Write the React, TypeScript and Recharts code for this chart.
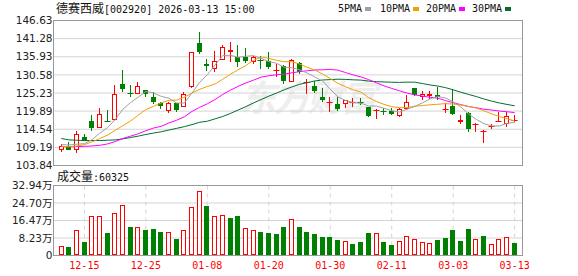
import React from 'react';
import { ComposedChart, Bar, Line, XAxis, YAxis, CartesianGrid } from 'recharts';

const dates = [
  '12-10','12-11','12-12','12-15','12-16','12-17','12-18','12-19','12-22','12-23',
  '12-24','12-25','12-26','12-29','12-30','12-31','01-05','01-06','01-07','01-08',
  '01-09','01-12','01-13','01-14','01-15','01-16','01-19','01-20','01-21','01-22',
  '01-23','01-26','01-27','01-28','01-29','01-30','02-02','02-03','02-04','02-05',
  '02-06','02-09','02-10','02-11','02-12','02-13','02-24','02-25','02-26','02-27',
  '03-02','03-03','03-04','03-05','03-06','03-09','03-10','03-11','03-12','03-13',
];

const opens = [
  108.48,109.47,108.48,112.34,116.9,115.0,116.9,117.2,127.9,125.32,
  125.03,126.02,124.03,122.15,120.07,122.15,121.16,127.01,139.99,133.65,
  132.26,135.04,137.22,135.73,135.73,134.24,135.04,134.54,131.8,133.35,
  128.5,134.05,128.2,127.31,124.13,122.45,121.86,121.95,122.45,122.65,
  120.96,120.07,119.97,119.97,118.49,120.37,126.61,123.94,124.43,124.53,
  120.3,121.46,116.6,119.47,115.91,113.93,115.41,116.8,116.0,117.2,
];
const highs = [
  110.26,110.85,113.93,113.24,118.88,120.76,120.17,127.5,132.06,127.5,
  128.5,126.1,125.42,122.65,122.65,122.35,125.62,137.41,143.16,135.23,
  137.51,139.5,140.29,139.5,138.5,136.22,136.22,137.41,133.75,133.45,
  135.33,134.24,129.39,128.79,126.61,123.94,124.13,123.14,123.64,123.64,
  121.06,120.37,120.67,120.67,120.67,124.63,126.81,125.92,125.92,127.0,
  122.15,126.5,118.69,119.58,116.5,114.22,116.0,119.67,119.67,118.7,
];
const lows = [
  107.78,108.28,107.48,111.05,114.03,115.0,116.6,117.0,125.62,124.13,
  125.03,124.03,121.95,120.37,119.47,119.67,121.16,126.61,136.82,131.86,
  131.57,134.9,134.24,133.05,134.05,133.65,132.26,132.26,130.08,127.9,
  128.5,130.77,125.03,125.32,122.65,119.58,119.97,120.67,121.16,121.66,
  118.19,117.59,118.88,118.88,118.19,120.17,124.33,123.14,123.54,123.14,
  119.47,118.69,116.2,113.73,113.73,110.46,114.62,116.8,115.22,116.6,
];
const closes = [
  109.67,108.48,113.13,111.15,114.92,119.18,116.7,124.83,126.51,124.83,
  127.21,125.03,122.65,121.46,122.15,120.17,124.93,137.31,137.31,133.25,
  134.64,138.8,137.91,134.24,134.74,135.73,134.64,133.05,131.96,128.89,
  134.94,131.57,128.4,125.92,123.14,122.65,120.37,123.04,122.65,122.45,
  118.49,120.27,119.77,119.08,120.57,122.45,124.63,124.93,124.93,123.94,
  120.45,118.98,117.2,114.52,116.21,114.13,115.61,117.0,118.49,117.3,
];
// volume in 万手
const volumes = [
  4.3,3.8,12.2,6.2,18.4,18.4,10.5,20.0,23.8,13.3,
  13.6,11.9,12.4,10.9,11.2,7.6,12.2,22.6,30.2,23.4,
  18.4,19.0,17.6,18.5,13.1,12.2,10.9,10.6,10.0,13.3,
  17.4,13.3,10.9,10.0,8.6,8.6,7.1,6.7,5.2,6.2,
  10.5,10.5,6.2,4.8,7.0,9.3,7.9,6.2,5.7,7.1,
  8.1,11.9,6.7,12.4,7.9,9.0,5.2,7.9,8.6,6.03,
];
const ma5 = [
  110.0,109.9,110.1,110.3,111.47,113.37,115.02,117.36,120.43,122.41,
  124.0,125.68,125.25,124.24,123.7,122.29,122.27,125.2,128.37,130.59,
  133.49,136.26,136.38,135.77,136.07,136.28,135.45,134.48,134.02,132.85,
  132.7,132.08,131.15,129.94,128.79,126.34,124.1,123.02,122.37,122.23,
  121.4,121.38,120.73,120.01,119.64,120.43,121.3,122.33,123.5,124.18,
  123.78,122.65,121.1,119.02,117.47,116.21,115.53,115.49,116.29,116.55,
];
const ma10 = [
  109.5,109.4,109.6,110.0,110.8,111.8,112.8,114.2,115.6,116.94,
  118.69,120.35,121.3,122.33,123.06,123.15,123.98,125.23,126.31,127.15,
  127.89,129.27,130.79,132.07,133.33,134.89,135.86,135.43,134.9,134.46,
  134.49,133.77,132.82,131.98,130.82,129.52,128.09,127.09,126.16,125.51,
  123.87,122.74,121.88,121.19,120.93,120.91,121.34,121.53,121.76,121.91,
  122.1,121.97,121.72,121.26,120.82,119.99,119.09,118.3,117.65,117.01,
];
const ma20 = [
  109.4,109.4,109.4,109.5,109.6,109.8,110.2,110.9,111.8,112.5,
  113.2,114.1,114.9,115.4,116.4,117.2,118.2,119.8,121.0,122.04,
  123.29,124.81,126.05,127.2,128.19,129.02,129.92,130.33,130.6,130.8,
  131.19,131.52,131.8,132.03,132.08,132.2,131.97,131.26,130.53,129.99,
  129.18,128.25,127.35,126.59,125.88,125.22,124.71,124.31,123.96,123.71,
  122.99,122.36,121.8,121.23,120.88,120.45,120.22,119.91,119.7,119.45,
];
const ma30 = [
  111.8,111.4,111.3,111.2,111.2,111.2,111.3,111.4,111.7,112.1,
  112.5,113.0,113.4,113.8,114.3,114.8,115.3,115.9,116.6,116.9,
  117.6,118.3,119.2,120.2,121.2,122.3,123.3,124.3,125.2,126.18,
  127.02,127.79,128.3,128.8,129.07,129.19,129.31,129.25,129.12,129.04,
  128.75,128.59,128.49,128.42,128.36,128.44,128.43,128.02,127.6,127.29,
  126.82,126.16,125.47,124.81,124.19,123.47,122.84,122.3,121.86,121.46,
];

const priceTicks = [103.84, 109.19, 114.54, 119.89, 125.23, 130.58, 135.93, 141.28, 146.63];
const volTicks = [0, 8.23, 16.47, 24.7, 32.94];
const tickDates = ['12-15', '12-25', '01-08', '01-20', '01-30', '02-11', '03-03', '03-13'];

const RED = '#ff0000';
const GREEN = '#008000';
const GRID = '#d4d4d4';
const FRAME = '#999999';

const data = dates.map((d, i) => ({
  date: d,
  open: opens[i],
  high: highs[i],
  low: lows[i],
  close: closes[i],
  hl: [lows[i], highs[i]],
  vol: volumes[i],
  volUp: i === 0 ? closes[i] >= opens[i] : closes[i] >= closes[i - 1],
  ma5: ma5[i],
  ma10: ma10[i],
  ma20: ma20[i],
  ma30: ma30[i],
}));

const Candle = (props: any) => {
  const { x, y, width, height, payload } = props;
  if (x == null || y == null || !payload) return null;
  const { open, close, high, low } = payload;
  const top0 = Math.min(y, y + height);
  const h = Math.abs(height);
  const up = close >= open;
  const color = up ? RED : GREEN;
  const k = h / (high - low || 1);
  const yO = top0 + (high - open) * k;
  const yC = top0 + (high - close) * k;
  const cx = Math.floor(x + width / 2) + 0.5;
  const bt = Math.round(Math.min(yO, yC));
  const bb = Math.round(Math.max(yO, yC));
  let body;
  if (bb - bt < 2) {
    body = <line x1={cx - 3} x2={cx + 3} y1={bt + 0.5} y2={bt + 0.5} stroke={color} strokeWidth={1} />;
  } else if (up) {
    body = <rect x={cx - 2} y={bt + 0.5} width={4} height={bb - bt - 1} fill="#ffffff" stroke={color} strokeWidth={1} />;
  } else {
    body = <rect x={cx - 2.5} y={bt} width={5} height={bb - bt} fill={color} />;
  }
  return (
    <g>
      <line x1={cx} x2={cx} y1={Math.round(top0)} y2={Math.round(top0 + h)} stroke={color} strokeWidth={1} />
      {body}
    </g>
  );
};

const VolBar = (props: any) => {
  const { x, y, width, height, payload } = props;
  if (x == null || y == null || !payload) return null;
  const color = payload.volUp ? RED : GREEN;
  const cx = Math.floor(x + width / 2) + 0.5;
  const top = Math.round(Math.min(y, y + height));
  const bot = Math.floor(Math.max(y, y + height));
  if (payload.volUp) {
    return <rect x={cx - 2} y={top + 0.5} width={4} height={Math.max(bot - top - 1, 0)} fill="#ffffff" stroke={color} strokeWidth={1} />;
  }
  return <rect x={cx - 2.5} y={top} width={5} height={bot - top} fill={color} />;
};

const axisFont = { fontSize: 10.5, fill: '#222222', fontFamily: 'DejaVu Sans, Noto Sans CJK SC' };

const PL = 53.5;
const PR = 522.5;
const PT = 20.5;
const PB = 165.5;
const VT = 185.5;
const VB = 255.5;

const legendItems = [
  { label: '5PMA', color: '#a0a0a0', x: 338, sx: 365 },
  { label: '10PMA', color: '#f0a000', x: 380, sx: 413 },
  { label: '20PMA', color: '#ff00ff', x: 426, sx: 459 },
  { label: '30PMA', color: '#006f2f', x: 472, sx: 505 },
];

export default function App() {
  return (
    <div style={{ position: 'absolute', left: 0, top: 0, width: 578, height: 276, background: '#ffffff', overflow: 'hidden' }}>
      <svg width={578} height={276} style={{ position: 'absolute', left: 0, top: 0 }}>
        <text x={240} y={111} fontSize={36} fontWeight="bold" fontStyle="italic" fill="#eeeeee" fontFamily="Noto Sans CJK SC" textLength={137}>东方财富</text>
      </svg>
      <div style={{ position: 'absolute', left: 0, top: 0 }}>
        <ComposedChart width={578} height={276} data={data} margin={{ top: PT, left: PL - 50, right: 578 - PR, bottom: 276 - PB }}>
          <CartesianGrid horizontal={true} vertical={false} stroke={GRID} />
          <CartesianGrid horizontal={false} vertical={true} stroke={GRID} strokeDasharray="4 4" />
          <XAxis dataKey="date" ticks={tickDates} tick={false} tickLine={false} axisLine={false} height={0} padding={{ left: 4, right: 4 }} />
          <YAxis domain={[103.84, 146.63]} ticks={priceTicks} interval={0} allowDataOverflow width={50} tickSize={0} tickMargin={1} axisLine={false} tickLine={false} tick={axisFont} tickFormatter={(v: number) => v.toFixed(2)} />
          <Line type="linear" dataKey="ma30" stroke="#006f2f" strokeWidth={1} dot={false} isAnimationActive={false} />
          <Line type="linear" dataKey="ma20" stroke="#ff00ff" strokeWidth={1} dot={false} isAnimationActive={false} />
          <Line type="linear" dataKey="ma10" stroke="#f0a000" strokeWidth={1} dot={false} isAnimationActive={false} />
          <Line type="linear" dataKey="ma5" stroke="#a0a0a0" strokeWidth={1} dot={false} isAnimationActive={false} />
          <Bar dataKey="hl" barSize={5} shape={<Candle />} isAnimationActive={false} />
        </ComposedChart>
      </div>
      <div style={{ position: 'absolute', left: 0, top: 0 }}>
        <ComposedChart width={578} height={276} data={data} margin={{ top: VT, left: PL - 50, right: 578 - PR, bottom: 0 }}>
          <CartesianGrid horizontal={true} vertical={false} stroke={GRID} />
          <CartesianGrid horizontal={false} vertical={true} stroke={GRID} strokeDasharray="4 4" />
          <XAxis dataKey="date" ticks={tickDates} tickSize={0} tickMargin={6} axisLine={false} tickLine={false} height={276 - VB} padding={{ left: 4, right: 4 }} interval={0} tick={{ fontSize: 10, fill: RED, fontFamily: 'DejaVu Sans Mono' }} />
          <YAxis domain={[0, 32.94]} ticks={volTicks} interval={0} allowDataOverflow width={50} tickSize={0} tickMargin={1} axisLine={false} tickLine={false} tick={axisFont} tickFormatter={(v: number) => (v === 0 ? '0' : v.toFixed(2) + '万')} />
          <Bar dataKey="vol" barSize={5} shape={<VolBar />} isAnimationActive={false} />
        </ComposedChart>
      </div>
      <svg width={578} height={276} style={{ position: 'absolute', left: 0, top: 0, pointerEvents: 'none' }}>
        <rect x={PL} y={PT} width={PR - PL} height={PB - PT} fill="none" stroke={FRAME} strokeWidth={1} />
        <rect x={PL} y={VT} width={PR - PL} height={VB - VT} fill="none" stroke={FRAME} strokeWidth={1} />
        <text x={56} y={12.5} fill="#111111">
          <tspan fontFamily="Noto Sans CJK SC" fontSize={12}>德赛西威</tspan>
          <tspan fontFamily="DejaVu Sans Mono" fontSize={10}>[002920] 2026-03-13 15:00</tspan>
        </text>
        {legendItems.map((it) => (
          <g key={it.label}>
            <text x={it.x} y={12} fontFamily="DejaVu Sans Mono" fontSize={10} fill="#111111">{it.label}</text>
            <rect x={it.sx} y={7} width={6} height={4} fill={it.color} />
          </g>
        ))}
        <text x={57} y={181} fill="#111111">
          <tspan fontFamily="Noto Sans CJK SC" fontSize={12}>成交量</tspan>
          <tspan fontFamily="DejaVu Sans Mono" fontSize={10}>:60325</tspan>
        </text>
      </svg>
    </div>
  );
}
